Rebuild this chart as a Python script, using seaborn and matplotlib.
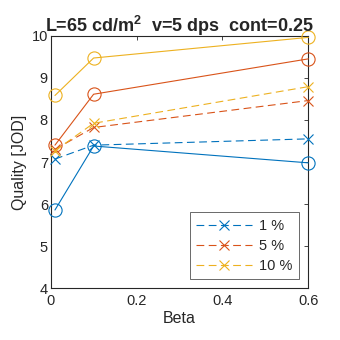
import matplotlib
matplotlib.use("Agg")
import matplotlib.pyplot as plt
import seaborn as sns
import pandas as pd

sns.set_theme(style="white")
plt.rcParams["font.family"] = ["Liberation Sans", "DejaVu Sans"]
plt.rcParams["mathtext.fontset"] = "custom"
plt.rcParams["mathtext.rm"] = "Liberation Sans"
plt.rcParams["mathtext.bf"] = "Liberation Sans:bold"

beta = [0.01, 0.1, 0.6]
labels = ["1 %", "5 %", "10 %"]
colors = ["#0072BD", "#D95319", "#EDB120"]

# dashed series (x markers) and solid series (o markers)
dashed_vals = [
    [7.07, 7.40, 7.55],
    [7.30, 7.82, 8.46],
    [7.27, 7.92, 8.79],
]
solid_vals = [
    [5.86, 7.38, 6.98],
    [7.40, 8.61, 9.45],
    [8.58, 9.47, 9.96],
]

fig = plt.figure(figsize=(3.4, 3.4), dpi=100)
ax = fig.add_axes([0.149, 0.152, 0.758, 0.743])

for lab, col, dv, sv in zip(labels, colors, dashed_vals, solid_vals):
    df_d = pd.DataFrame({"Beta": beta, "Q": dv})
    df_s = pd.DataFrame({"Beta": beta, "Q": sv})
    sns.lineplot(data=df_d, x="Beta", y="Q", ax=ax, color=col, marker="x",
                 markersize=7.5, markeredgewidth=0.8, markeredgecolor=col,
                 linewidth=0.8, linestyle=(0, (7, 4)), label=lab,
                 clip_on=False, zorder=3)
    sns.lineplot(data=df_s, x="Beta", y="Q", ax=ax, color=col, marker="o",
                 markersize=9.5, markeredgewidth=0.8, fillstyle="none",
                 markerfacecolor="none", markeredgecolor=col,
                 linewidth=0.8, label="_nolegend_", clip_on=False, zorder=3)

ax.set_xlim(0, 0.6)
ax.set_ylim(4, 10)
ax.set_xticks([0, 0.2, 0.4, 0.6])
ax.set_xticklabels(["0", "0.2", "0.4", "0.6"])
ax.set_yticks([4, 5, 6, 7, 8, 9, 10])
ax.tick_params(direction="in", length=3, width=0.6, top=True, right=True,
               labelsize=10.5, colors="#262626", pad=2)
ax.tick_params(axis="x", pad=4)
for s in ax.spines.values():
    s.set_color("#262626")
    s.set_linewidth(0.8)
    s.set_zorder(2)
ax.set_xlabel("Beta", fontsize=11.5, color="#262626", labelpad=2)
ax.set_ylabel("Quality [JOD]", fontsize=11.5, color="#262626", labelpad=3)
ax.set_title(r"L=65 cd/m$^\mathbf{2}$  v=5 dps  cont=0.25", fontsize=13,
             fontweight="bold", pad=3)

leg = ax.legend(loc="lower right", bbox_to_anchor=(0.964, 0.036),
                fontsize=10.5, handlelength=3.8, frameon=True, fancybox=False,
                borderpad=0.45, labelspacing=0.4, handletextpad=0.5,
                borderaxespad=0.0)
leg.get_frame().set_edgecolor("#262626")
leg.get_frame().set_linewidth(0.6)

fig.savefig("out.png", dpi=100, facecolor="white")
